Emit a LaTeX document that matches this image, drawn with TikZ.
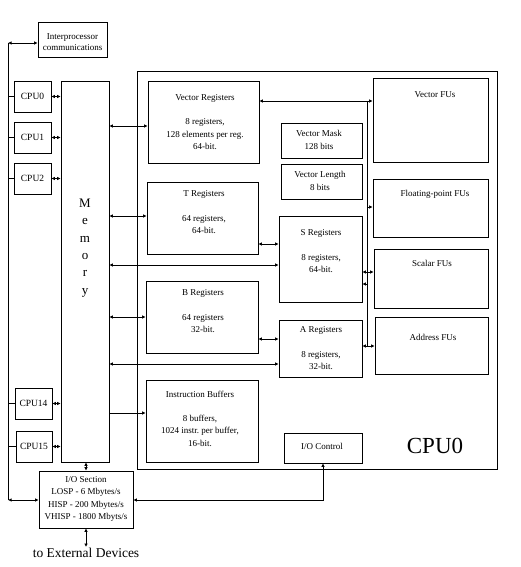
\documentclass[tikz,border=0pt]{standalone}
\usepackage{fontspec}
\setmainfont{Liberation Serif}
\usetikzlibrary{arrows.meta}
\frenchspacing
\begin{document}
\begin{tikzpicture}[x=1pt,y=-1pt,
  bx/.style={draw, line width=0.8pt, inner sep=0pt},
  txt/.style={align=center, inner sep=0pt, font=\fontsize{9}{12.3}\selectfont},
  cpul/.style={inner sep=0pt, font=\fontsize{9.5}{12}\selectfont},
  ln/.style={line width=0.8pt},
  bi/.style={line width=0.8pt, {Latex[length=3.5pt,width=3.5pt]}-{Latex[length=3.5pt,width=3.5pt]}},
  uni/.style={line width=0.8pt, -{Latex[length=3.5pt,width=3.5pt]}}]
\useasboundingbox (0,0) rectangle (521,567);
% outer boxes
\node[bx, minimum width=69pt, minimum height=35pt] (ipc) at (72.5,39.5) {};
\node[txt, font=\fontsize{9}{11}\selectfont] (ipct) at (72.5,42.5) {Interprocessor\\communications};
\node[bx, minimum width=37pt, minimum height=31pt] (c0) at (32.5,96.5) {};
\node[bx, minimum width=37pt, minimum height=31pt] (c1) at (32.5,137.5) {};
\node[bx, minimum width=37pt, minimum height=31pt] (c2) at (32.5,178.5) {};
\node[bx, minimum width=37pt, minimum height=31pt] (c14) at (33.5,403.5) {};
\node[bx, minimum width=36pt, minimum height=31pt] (c15) at (34,446.5) {};
\node[cpul] at (c0) {CPU0};
\node[cpul] at (c1) {CPU1};
\node[cpul] at (c2) {CPU2};
\node[cpul] at (c14) {CPU14};
\node[cpul] at (c15) {CPU15};
\node[bx, minimum width=48pt, minimum height=381pt] (mem) at (85,271.5) {};
\node[align=center, inner sep=0pt, font=\fontsize{13}{17.4}\selectfont] (memt) at (85,248) {M\\e\\m\\o\\r\\y};
\node[bx, minimum width=94pt, minimum height=57pt] (ios) at (86,499.5) {};
\node[txt] (iost) at (86,499) {I/O Section\\LOSP - 6 Mbytes/s\\HISP - 200 Mbytes/s\\VHISP - 1800 Mbyts/s};
\node[inner sep=1pt, font=\fontsize{13.5}{15}\selectfont] (ext) at (86,553) {to External Devices};
% CPU box
\node[bx, minimum width=360pt, minimum height=398pt] (cpu) at (317,270) {};
\node[inner sep=0pt, font=\fontsize{23}{26}\selectfont] (cput) at (435,446) {CPU0};
\node[bx, minimum width=111pt, minimum height=82pt] (vreg) at (203.5,122) {};
\node[txt] at (205,122) {Vector Registers\\[12.3pt]8 registers,\\128 elements per reg.\\64-bit.};
\node[bx, minimum width=111pt, minimum height=72pt] (treg) at (202.5,218) {};
\node[txt] at (204,212) {T Registers\\[12.3pt]64 registers,\\64-bit.};
\node[bx, minimum width=112pt, minimum height=72pt] (breg) at (202,317) {};
\node[txt] at (203,311.5) {B Registers\\[12.3pt]64 registers\\32-bit.};
\node[bx, minimum width=112pt, minimum height=82pt] (ibuf) at (202,421) {};
\node[txt] at (200,418.5) {Instruction Buffers\\[12.3pt]8 buffers,\\1024 instr. per buffer,\\16-bit.};
\node[bx, minimum width=81pt, minimum height=35pt] (vmask) at (321.5,140.5) {};
\node[txt] at (319,140) {Vector Mask\\128 bits};
\node[bx, minimum width=81pt, minimum height=35pt] (vlen) at (321.5,181.5) {};
\node[txt] at (320,181) {Vector Length\\8 bits};
\node[bx, minimum width=83pt, minimum height=86pt] (sreg) at (320.5,259) {};
\node[txt] at (321,251.5) {S Registers\\[12.3pt]8 registers,\\64-bit.};
\node[bx, minimum width=83pt, minimum height=57pt] (areg) at (320.5,348.5) {};
\node[txt] at (321,348) {A Registers\\[12.3pt]8 registers,\\32-bit.};
\node[bx, minimum width=78pt, minimum height=30pt] (ioc) at (323,448) {};
\node[txt] at (322,446) {I/O Control};
\node[bx, minimum width=115pt, minimum height=84pt] (vfu) at (430.5,120) {};
\node[txt] at (435,95) {Vector FUs};
\node[bx, minimum width=115pt, minimum height=58pt] (fpfu) at (430.5,208) {};
\node[txt] at (435,194) {Floating-point FUs};
\node[bx, minimum width=114pt, minimum height=59pt] (sfu) at (431,278.5) {};
\node[txt] at (432,263) {Scalar FUs};
\node[bx, minimum width=113pt, minimum height=57pt] (afu) at (431.5,345.5) {};
\node[txt] at (433,337) {Address FUs};
% coordinates
\coordinate (busT) at (8,43);
\coordinate (busB) at (8,500);
\coordinate (vbT) at (367,101);
\coordinate (vbB) at (367,346);
\coordinate (y126) at (0,126);
\coordinate (y216) at (0,216);
\coordinate (y265) at (0,265);
\coordinate (y317) at (0,317);
\coordinate (y364) at (0,364);
\coordinate (y413) at (0,413);
\coordinate (y207) at (0,207);
\coordinate (y244) at (0,244);
\coordinate (y272) at (0,272);
\coordinate (y284) at (0,284);
\coordinate (y339) at (0,339);
% left bus
\draw[ln] (busT) -- (busB);
\draw[bi] (busT) -- (busT -| ipc.west);
\draw[bi] (busB) -- (busB -| ios.west);
\foreach \c in {c0,c1,c2,c14,c15}{
  \draw[ln] (\c.west -| busT) -- (\c.west);
  \draw[bi] (\c.east) -- (\c.east -| mem.west);
}
\draw[bi] (mem.south -| ios.north) -- (ios.north);
\draw[bi] (ios.south) -- (ext.north);
% memory to registers
\draw[bi] (mem.east |- y126) -- (vreg.west |- y126);
\draw[bi] (mem.east |- y216) -- (treg.west |- y216);
\draw[bi] (mem.east |- y265) -- (sreg.west |- y265);
\draw[bi] (mem.east |- y317) -- (breg.west |- y317);
\draw[bi] (mem.east |- y364) -- (areg.west |- y364);
\draw[uni] (mem.east |- y413) -- (ibuf.west |- y413);
% register links
\draw[bi] (treg.east |- y244) -- (sreg.west |- y244);
\draw[bi] (breg.east |- y339) -- (areg.west |- y339);
\draw[bi] (vreg.east |- vbT) -- (vfu.west |- vbT);
\draw[ln] (vbT) -- (vbB);
\draw[uni] (vbT |- y207) -- (fpfu.west |- y207);
\draw[bi] (sreg.east |- y272) -- (sfu.west |- y272);
\draw[uni] (vbT |- y284) -- (sreg.east |- y284);
\draw[bi] (areg.east |- vbB) -- (afu.west |- vbB);
\draw[bi] (ioc.south) |- (ios.east |- busB);
\end{tikzpicture}
\end{document}
